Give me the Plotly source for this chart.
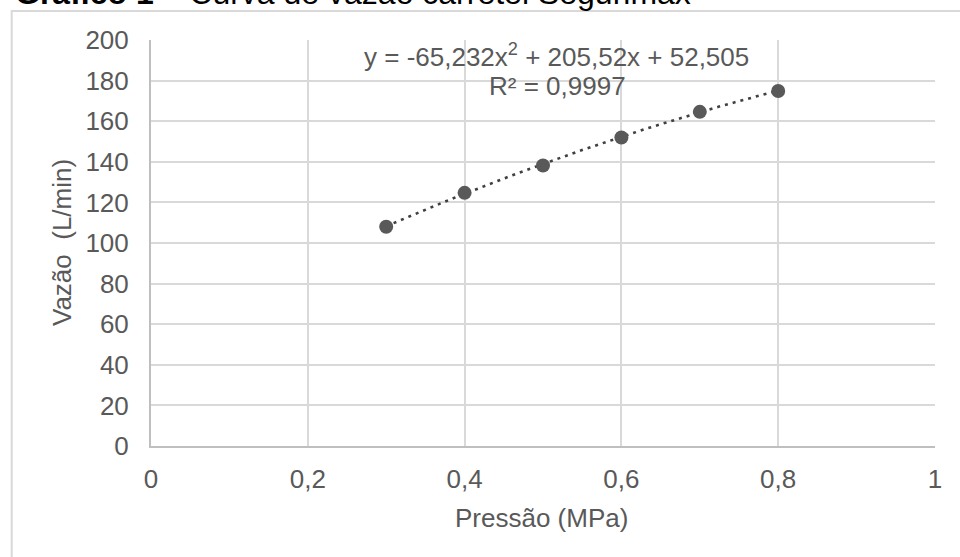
import numpy as np
import plotly.graph_objects as go

# Data
pressao = [0.3, 0.4, 0.5, 0.6, 0.7, 0.8]           # MPa
vazao = [108.0, 124.7, 138.2, 152.0, 164.6, 174.9]  # L/min
trend_coef = [-65.232, 205.52, 52.505]              # displayed polynomial trendline
eq_text = "y = -65,232x<sup>2</sup> + 205,52x + 52,505"
r2_text = "R² = 0,9997"
x_ticks = [0, 0.2, 0.4, 0.6, 0.8, 1]
y_ticks = [0, 20, 40, 60, 80, 100, 120, 140, 160, 180, 200]
title_bold = "Gráfico 1"
title_rest = " – Curva de vazão carretel Segurimax"
x_title = "Pressão (MPa)"
y_title = "Vazão\u00a0 (L/min)"

W, H = 960, 557
L, R, T, B = 151, 25, 40, 111
pw, ph = W - L - R, H - T - B

def px_x(p):
    return (p - L) / pw

def px_y(p):
    return (H - B - p) / ph

FONT = "Liberation Sans, Arial, sans-serif"
GREY = "#595959"

tx = np.linspace(min(pressao), max(pressao), 60)
ty = np.polyval(trend_coef, tx)

fig = go.Figure()
fig.add_trace(go.Scatter(x=tx, y=ty, mode="lines",
                         line=dict(color="#404040", width=2.6, dash="3px,5px"),
                         hoverinfo="skip", showlegend=False))
fig.add_trace(go.Scatter(x=pressao, y=vazao, mode="markers",
                         marker=dict(color=GREY, size=14, line=dict(width=0)),
                         showlegend=False))

fig.update_layout(
    width=W, height=H, autosize=False,
    margin=dict(l=L, r=R, t=T, b=B),
    paper_bgcolor="white", plot_bgcolor="white",
    separators=",.",
    font=dict(family=FONT, size=26, color=GREY),
    showlegend=False,
    xaxis=dict(range=[0, 1], tickvals=x_ticks, showgrid=True, gridcolor="#d9d9d9",
               gridwidth=2, showline=True, linecolor="#bfbfbf", linewidth=2,
               zeroline=False, ticks="", ticklabelstandoff=9,
               tickfont=dict(size=26, color=GREY, family=FONT)),
    yaxis=dict(range=[0, 200], tickvals=y_ticks, showgrid=True, gridcolor="#d9d9d9",
               gridwidth=2, showline=True, linecolor="#bfbfbf", linewidth=2,
               zeroline=False, ticks="", ticklabelstandoff=15,
               tickfont=dict(size=26, color=GREY, family=FONT)),
)

# outer chart-area border (extends beyond the visible page right and bottom)
fig.add_shape(type="rect", xref="paper", yref="paper",
              x0=px_x(11.7), x1=px_x(975), y0=px_y(575), y1=px_y(11),
              line=dict(color="#d9d9d9", width=2), fillcolor="rgba(0,0,0,0)",
              layer="below")

# title (cut at the top of the page)
fig.add_annotation(text=f"<b>{title_bold}</b>{title_rest}", xref="paper", yref="paper",
                   x=px_x(13), y=px_y(-7), xanchor="left", yanchor="middle",
                   showarrow=False, font=dict(family=FONT, size=32, color="black"))

# trendline equation and R²
fig.add_annotation(text=eq_text, xref="paper", yref="paper",
                   x=px_x(556.5), y=px_y(55), xanchor="center", yanchor="middle",
                   showarrow=False, font=dict(family=FONT, size=26, color=GREY))
fig.add_annotation(text=r2_text, xref="paper", yref="paper",
                   x=px_x(557), y=px_y(86), xanchor="center", yanchor="middle",
                   showarrow=False, font=dict(family=FONT, size=26, color=GREY))

# axis titles
fig.add_annotation(text=x_title, xref="paper", yref="paper",
                   x=px_x(541.7), y=px_y(518), xanchor="center", yanchor="middle",
                   showarrow=False, font=dict(family=FONT, size=26, color=GREY))
fig.add_annotation(text=y_title, xref="paper", yref="paper", textangle=-90,
                   x=px_x(62), y=px_y(243), xanchor="center", yanchor="middle",
                   showarrow=False, font=dict(family=FONT, size=26, color=GREY))

fig.write_html("out.html", config={"displayModeBar": False},
               post_script="document.body.style.margin='0';document.body.style.overflow='hidden';")
